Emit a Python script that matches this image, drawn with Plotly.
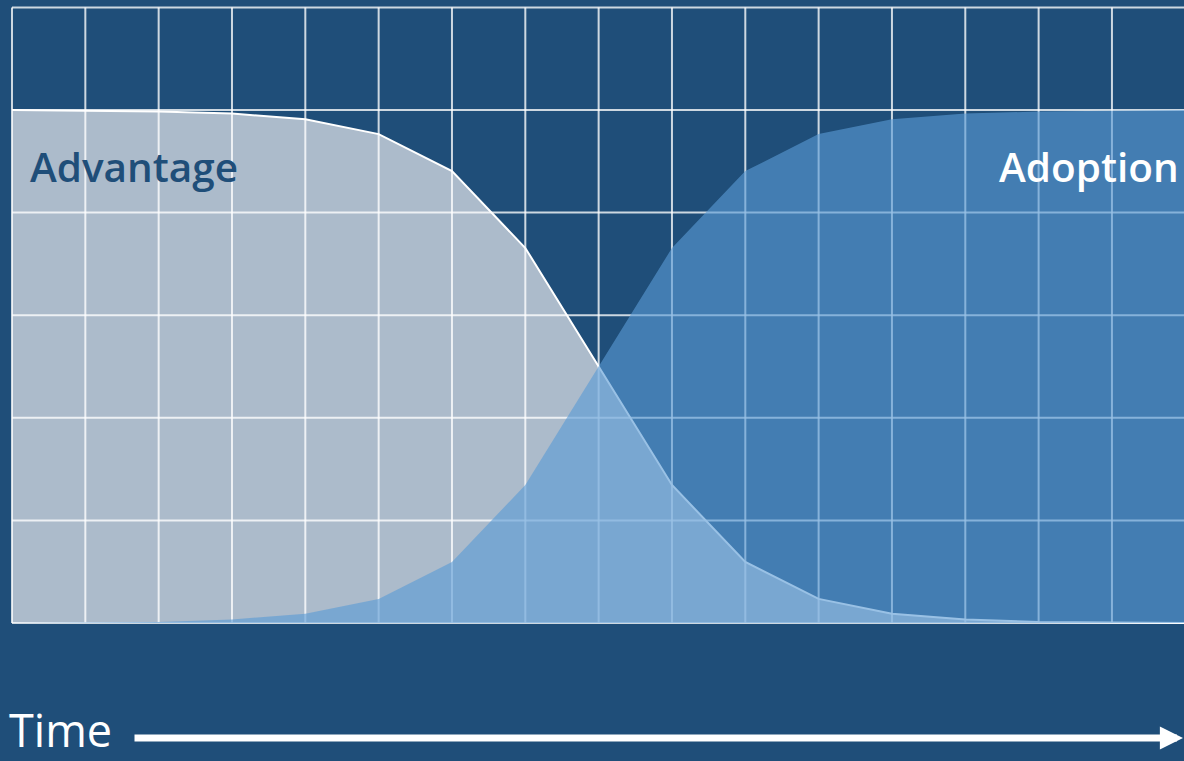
import plotly.graph_objects as go

# Time steps (one per grid column) and the two S-curves, in percent
steps = list(range(17))
advantage = [100.0, 99.9, 99.7, 99.3, 98.2, 95.3, 88.1, 73.1, 50.0,
             26.9, 11.9, 4.7, 1.8, 0.7, 0.2, 0.1, 0.0]
adoption = [0.0, 0.1, 0.2, 0.7, 1.8, 4.7, 11.9, 26.9, 50.0,
            73.1, 88.1, 95.3, 98.2, 99.3, 99.7, 99.9, 100.0]

# Grid positions
grid_x = list(range(17))
grid_y = [0, 20, 40, 60, 80, 100, 120]

labels = {"advantage": "Advantage", "adoption": "Adoption", "axis": "Time"}

BG = "#1F4E79"
GRID = "rgba(255,255,255,0.78)"

W, H = 1184, 761

fig = go.Figure()

# Advantage area (opaque, sits under the grid)
fig.add_trace(go.Scatter(
    x=steps, y=advantage, mode="lines", fill="tozeroy",
    fillcolor="#ACBBCB", line=dict(color="white", width=2),
    hoverinfo="skip",
))

# Grid drawn as one line trace so it lands between the two areas
gx, gy = [], []
for v in grid_x:
    gx += [v, v, None]
    gy += [grid_y[0], grid_y[-1], None]
for v in grid_y:
    gx += [grid_x[0], grid_x[-1], None]
    gy += [v, v, None]
fig.add_trace(go.Scatter(
    x=gx, y=gy, mode="lines", line=dict(color=GRID, width=2),
    hoverinfo="skip", connectgaps=False,
))

# Adoption area (translucent, over the grid)
fig.add_trace(go.Scatter(
    x=steps, y=adoption, mode="lines", fill="tozeroy",
    fillcolor="rgba(91,155,213,0.62)", line=dict(color="rgba(0,0,0,0)", width=0),
    hoverinfo="skip",
))

# Axis scaling: column width ~73.3 px from x=12, row height ~102.6 px up from y=623
col_px = 73.33
row_px = 102.6 / 20.0
x_left = 12
y_base = 623

fig.update_xaxes(
    range=[-x_left / col_px, (W - x_left) / col_px],
    domain=[0, 1], showgrid=False, zeroline=False, showticklabels=False,
    showline=False, fixedrange=True,
)
fig.update_yaxes(
    range=[-(H - y_base) / row_px, y_base / row_px],
    domain=[0, 1], showgrid=False, zeroline=False, showticklabels=False,
    showline=False, fixedrange=True,
)

annotations = [
    dict(text=labels["advantage"], xref="paper", yref="paper",
         x=28 / W, y=1 - 166 / H, xanchor="left", yanchor="middle",
         showarrow=False,
         font=dict(family="Open Sans", size=40.5, color=BG, weight=600)),
    dict(text=labels["adoption"], xref="paper", yref="paper",
         x=997 / W, y=1 - 166 / H, xanchor="left", yanchor="middle",
         showarrow=False,
         font=dict(family="Open Sans", size=40.5, color="white", weight=600)),
    dict(text=labels["axis"], xref="paper", yref="paper",
         x=8 / W, y=0, xanchor="left", yanchor="bottom",
         showarrow=False, borderpad=0,
         font=dict(family="Open Sans", size=45, color="white")),
    # Time arrow
    dict(text="", xref="paper", yref="paper",
         x=1184 / W, y=1 - 738 / H, ax=-(1184 - 133), ay=0,
         axref="pixel", ayref="pixel",
         showarrow=True, arrowhead=2, arrowwidth=7, arrowsize=0.66,
         arrowcolor="white", standoff=0),
]

fig.update_layout(
    width=W, height=H,
    margin=dict(l=0, r=0, t=0, b=0),
    paper_bgcolor=BG, plot_bgcolor=BG,
    showlegend=False, hovermode=False,
    annotations=annotations,
)

fig.write_html("out.html", config={"displayModeBar": False})
